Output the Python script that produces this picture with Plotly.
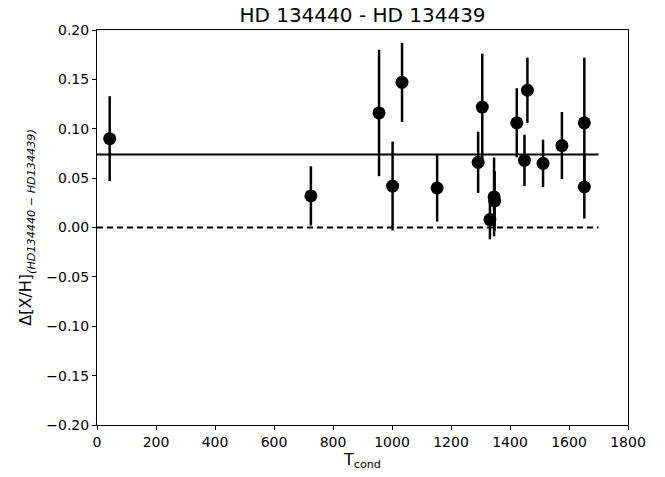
import plotly.graph_objects as go

tcond = [43, 725, 956, 1002, 1034, 1153, 1292, 1306, 1332, 1346, 1348, 1423, 1449, 1459, 1512, 1576, 1652, 1652]
dxh = [0.090, 0.032, 0.116, 0.042, 0.147, 0.040, 0.066, 0.122, 0.008, 0.031, 0.027, 0.106, 0.068, 0.139, 0.065, 0.083, 0.106, 0.041]
err = [0.043, 0.030, 0.064, 0.045, 0.040, 0.034, 0.031, 0.054, 0.020, 0.040, 0.030, 0.035, 0.026, 0.033, 0.024, 0.034, 0.066, 0.032]
mean_val = 0.074
line_x = [0, 1700]

yticks = [-0.20, -0.15, -0.10, -0.05, 0.00, 0.05, 0.10, 0.15, 0.20]
ytext = [("%.2f" % v).replace("-", "\u2212") for v in yticks]
xticks = [0, 200, 400, 600, 800, 1000, 1200, 1400, 1600, 1800]

fig = go.Figure()
fig.add_trace(go.Scatter(x=line_x, y=[mean_val, mean_val], mode="lines",
                         line=dict(color="black", width=2), showlegend=False))
fig.add_trace(go.Scatter(x=line_x, y=[0, 0], mode="lines",
                         line=dict(color="black", width=2, dash="6px,4px"), showlegend=False))
fig.add_trace(go.Scatter(x=tcond, y=dxh, mode="markers",
                         marker=dict(color="black", size=13),
                         error_y=dict(type="data", array=err, visible=True, color="black", thickness=2.5, width=0),
                         showlegend=False))

axis_common = dict(showline=True, linecolor="black", linewidth=1, mirror=True,
                   ticks="outside", ticklen=4, tickcolor="black", showgrid=False, zeroline=False,
                   tickfont=dict(size=14, color="black"), automargin=False)
fig.update_layout(
    width=665, height=477,
    margin=dict(l=97, r=37, t=30, b=52),
    paper_bgcolor="white", plot_bgcolor="white",
    font=dict(family="DejaVu Sans", color="black"),
    hovermode=False,
    title=dict(text="HD 134440 - HD 134439", xref="paper", x=0.5, xanchor="center",
               yref="container", y=0.969, yanchor="middle",
               font=dict(size=20, color="black")),
    xaxis=dict(range=[0, 1800], tickvals=xticks,
               title=dict(text="T<sub>cond</sub>", font=dict(size=16), standoff=4), **axis_common),
    yaxis=dict(range=[-0.20, 0.20], tickvals=yticks, ticktext=ytext,
               title=dict(text="\u0394[X/H]<sub><i>(HD134440 \u2212 HD134439)</i></sub>", font=dict(size=16), standoff=10),
               **axis_common),
)
fig.write_html("out.html", config={"displayModeBar": False},
               post_script="document.body.style.margin='0';")
